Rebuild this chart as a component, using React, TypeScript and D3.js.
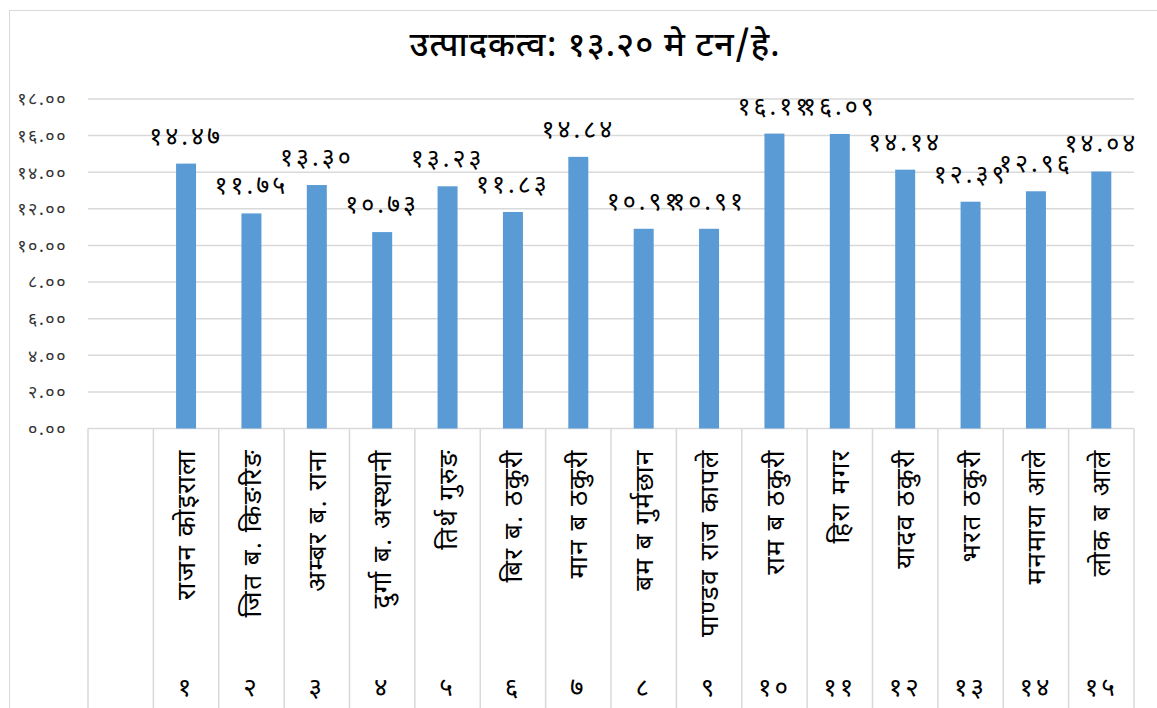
import React from 'react';
import * as d3 from 'd3';

// data
const names = ['', 'राजन कोइराला', 'जित ब. किङरिङ', 'अम्बर ब. राना', 'दुर्गा ब. अस्थानी', 'तिर्थ गुरुङ', 'बिर ब. ठकुरी', 'मान ब ठकुरी', 'बम ब गुर्मछान', 'पाण्डव राज कापले', 'राम ब ठकुरी', 'हिरा मगर', 'यादव ठकुरी', 'भरत ठकुरी', 'मनमाया आले', 'लोक ब आले'];
const serials = ['', '१', '२', '३', '४', '५', '६', '७', '८', '९', '१०', '११', '१२', '१३', '१४', '१५'];
const values = [null, 14.47, 11.75, 13.30, 10.73, 13.23, 11.83, 14.84, 10.91, 10.91, 16.11, 16.09, 14.14, 12.39, 12.96, 14.04];
const yTicks = [0, 2, 4, 6, 8, 10, 12, 14, 16, 18];
const title = 'उत्पादकत्व: १३.२० मे टन/हे.';

const W = 1157;
const H = 708;
const left = 88;
const right = 1134;
const top = 99;
const bottom = 428.5;

const devDigits = '०१२३४५६७८९';
const toDev = (s: string) => s.replace(/[0-9]/g, (c) => devDigits[+c]);

const font = '"Noto Sans Devanagari", "Noto Sans", sans-serif';

export default function App() {
  const x = d3.scaleBand<number>()
    .domain(d3.range(names.length))
    .range([left, right])
    .paddingInner(0)
    .paddingOuter(0);
  const y = d3.scaleLinear().domain([0, 18]).range([bottom, top]);
  const barW = 20;

  return (
    <svg width={W} height={H} style={{ position: 'absolute', left: 0, top: 0, background: '#fff' }}>
      {/* outer border */}
      <rect x={9.5} y={10.5} width={W + 20} height={H + 20} fill="none" stroke="#d9d9d9" strokeWidth={1} />

      <text x={595} y={56} textAnchor="middle" fontFamily={font} fontSize={34} fontWeight={500} fill="#000" letterSpacing={1}>
        {title}
      </text>

      {/* gridlines */}
      {yTicks.map((t) => (
        <g key={t}>
          <line x1={left} x2={right} y1={y(t)} y2={y(t)} stroke="#d9d9d9" strokeWidth={1.5} />
          <text x={67} y={y(t)} dy="0.35em" textAnchor="end" fontFamily={font} fontSize={18} fill="#333" letterSpacing={1.5}>
            {toDev(t.toFixed(2))}
          </text>
        </g>
      ))}

      {/* x axis category dividers */}
      {d3.range(names.length + 1).map((i) => {
        const xx = i < names.length ? x(i)! : right;
        return <line key={i} x1={xx} x2={xx} y1={bottom} y2={H} stroke="#d9d9d9" strokeWidth={1.5} />;
      })}

      {/* bars */}
      {values.map((v, i) =>
        v == null ? null : (
          <g key={i}>
            <rect
              x={x(i)! + x.bandwidth() / 2 - barW / 2}
              y={y(v)}
              width={barW}
              height={bottom - y(v)}
              fill="#5b9bd5"
            />
            <text
              x={x(i)! + x.bandwidth() / 2}
              y={y(v) - 19}
              textAnchor="middle"
              fontFamily={font}
              fontSize={25}
              fill="#000"
              letterSpacing={3}
            >
              {toDev(v.toFixed(2))}
            </text>
          </g>
        )
      )}

      {/* category names, rotated */}
      {names.map((n, i) => {
        const cx = x(i)! + x.bandwidth() / 2;
        return (
          <text
            key={'n' + i}
            x={cx}
            y={449}
            dy="0.35em"
            transform={`rotate(-90, ${cx}, 449)`}
            textAnchor="end"
            fontFamily={font}
            fontSize={26}
            fill="#000"
            letterSpacing={1.5}
          >
            {n}
          </text>
        );
      })}

      {serials.map((s, i) => (
        <text
          key={'s' + i}
          x={x(i)! + x.bandwidth() / 2}
          y={696}
          textAnchor="middle"
          fontFamily={font}
          fontSize={26}
          fill="#000"
          letterSpacing={3}
        >
          {s}
        </text>
      ))}
    </svg>
  );
}
